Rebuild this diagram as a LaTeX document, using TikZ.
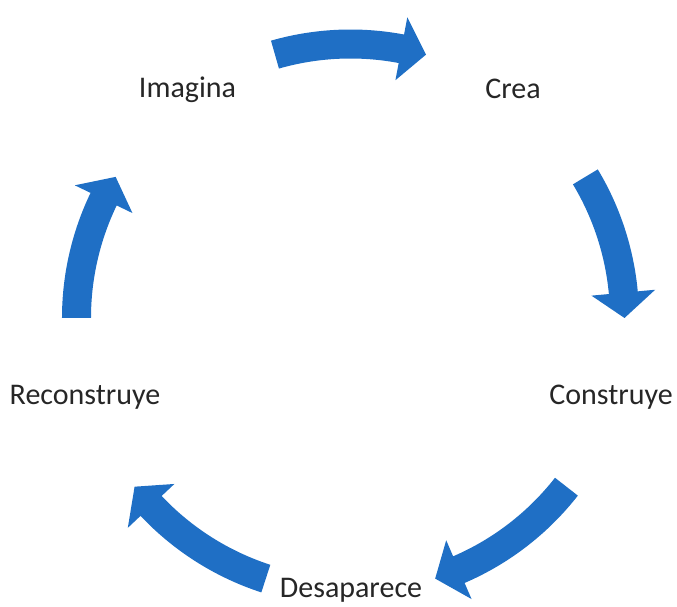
\documentclass[tikz,border=0pt]{standalone}
\usepackage{fontspec}
\setmainfont{Carlito}
\definecolor{cycblue}{RGB}{31,111,197}
\tikzset{
  lbl/.style={anchor=base, inner sep=0pt, font=\fontsize{30}{36}\selectfont, text=black!85},
  cycarrow/.style={fill=cycblue, draw=none}
}
% #1 = middle angle of the arrow, #2 = half of its angular span
\newcommand{\cycArrow}[2]{%
  \pgfmathsetmacro{\tt}{#1+#2}%
  \pgfmathsetmacro{\th}{#1-#2}%
  \pgfmathsetmacro{\tb}{\th+5.3}%
  \fill[cycarrow, shift={(1.5pt,-2pt)}] (\tt:288.5pt) arc[start angle=\tt, end angle=\tb, radius=288.5pt]
    -- (\tb:306pt) -- (\th:274pt) -- (\tb:242pt) -- (\tb:259.5pt)
    arc[start angle=\tb, end angle=\tt, radius=259.5pt] -- cycle;%
}
\begin{document}
\begin{tikzpicture}
\useasboundingbox (-349pt,-291pt) rectangle (328pt,316pt);
\node[lbl] (imagina) at (-161.5pt,218pt) {Imagina};
\node[lbl] (crea) at (164pt,217pt) {Crea};
\node[lbl] (construye) at (262pt,-89pt) {Construye};
\node[lbl] (desaparece) at (2pt,-281pt) {Desaparece};
\node[lbl] (reconstruye) at (-264pt,-89pt) {Reconstruye};
\cycArrow{90}{16}
\cycArrow{15.5}{15.5}
\cycArrow{-55}{17}
\cycArrow{-125}{17}
\cycArrow{164.5}{15.5}
\end{tikzpicture}
\end{document}
